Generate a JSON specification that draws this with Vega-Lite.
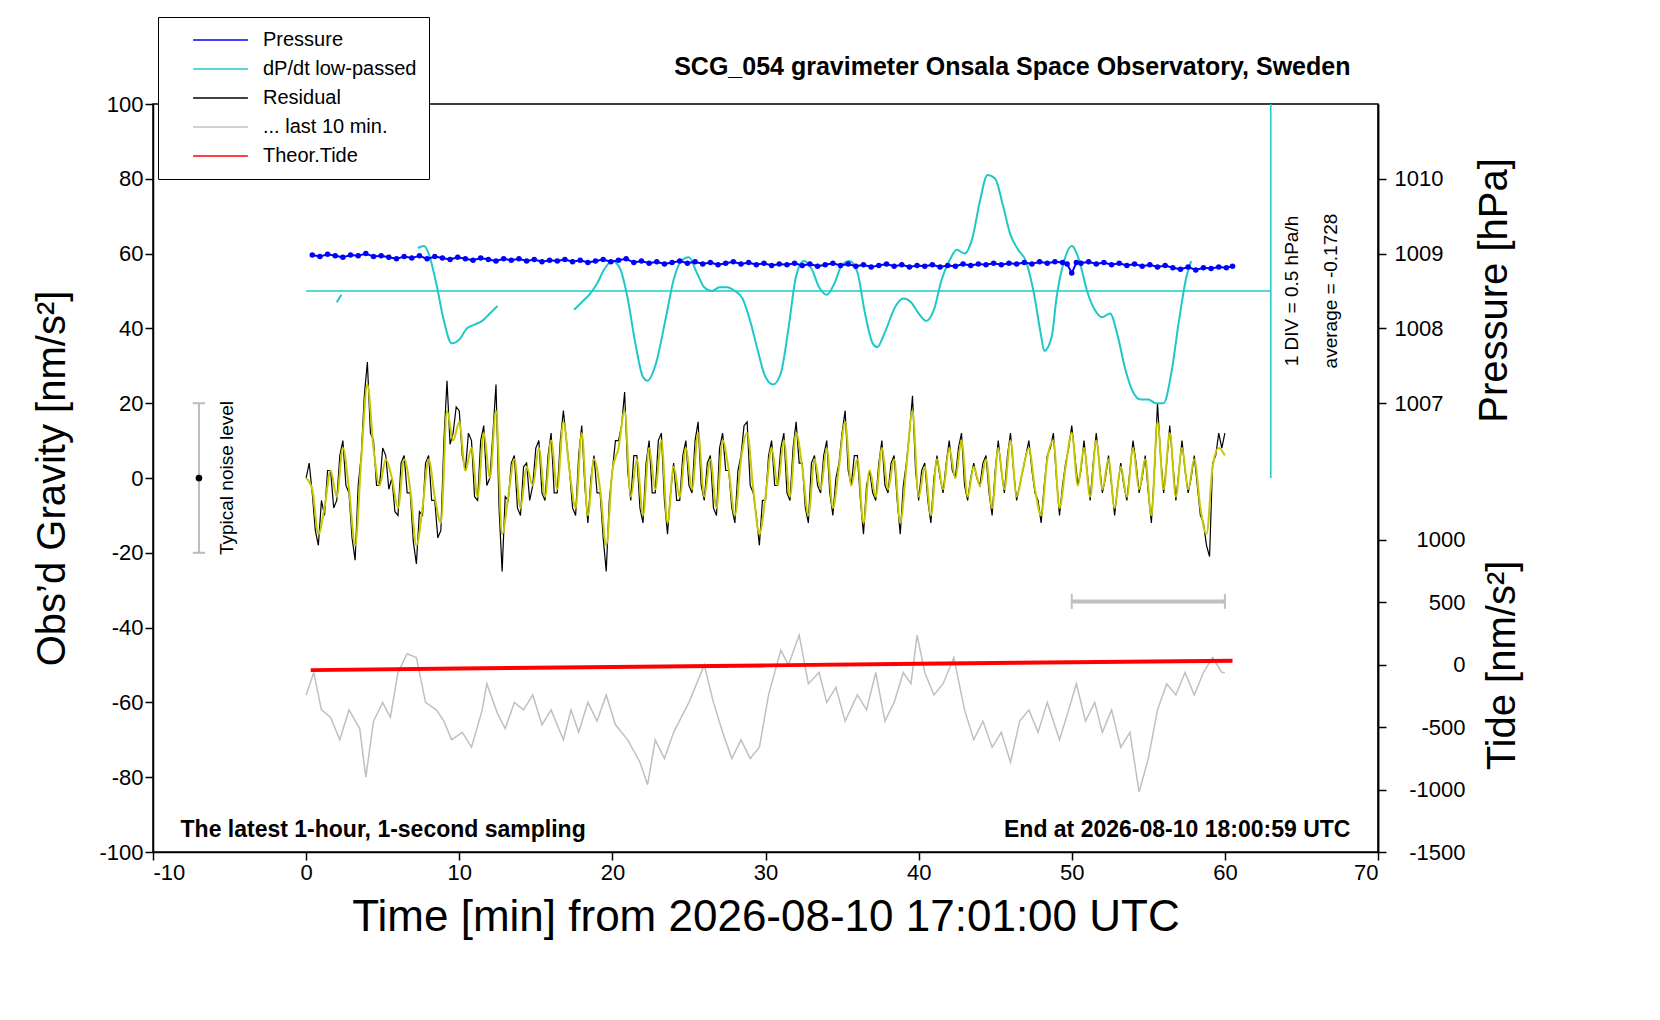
{
  "$schema": "https://vega.github.io/schema/vega-lite/v6.json",
  "width": 1225,
  "height": 748,
  "autosize": "none",
  "padding": {"left": 153, "top": 104, "right": 282, "bottom": 168},
  "background": "white",
  "config": {
    "font": "Liberation Sans",
    "view": {"stroke": "black", "strokeWidth": 1.5},
    "axis": {"grid": false, "domainColor": "black", "tickColor": "black", "labelColor": "black", "titleColor": "black", "titleFontWeight": "normal", "labelFontSize": 22, "titleFontSize": 40, "tickSize": 8, "domainWidth": 1.5, "tickWidth": 1.5, "labelExpr": "'' + datum.value"}
  },
  "datasets": {
    "pressure": [
      {"t":0.4,"p":1008.98},{"t":0.9,"p":1008.96},{"t":1.4,"p":1008.99},{"t":1.9,"p":1008.97},{"t":2.4,"p":1008.95},{"t":2.9,"p":1008.98},{"t":3.4,"p":1008.97},{"t":3.9,"p":1009.0},{"t":4.4,"p":1008.96},{"t":4.9,"p":1008.97},{"t":5.4,"p":1008.95},{"t":5.9,"p":1008.93},{"t":6.4,"p":1008.96},{"t":6.9,"p":1008.94},{"t":7.4,"p":1008.97},{"t":7.9,"p":1008.93},{"t":8.4,"p":1008.96},{"t":8.9,"p":1008.94},{"t":9.4,"p":1008.92},{"t":9.9,"p":1008.95},{"t":10.4,"p":1008.93},{"t":10.9,"p":1008.91},{"t":11.4,"p":1008.94},{"t":11.9,"p":1008.92},{"t":12.4,"p":1008.9},{"t":12.9,"p":1008.93},{"t":13.4,"p":1008.91},{"t":13.9,"p":1008.93},{"t":14.4,"p":1008.9},{"t":14.9,"p":1008.92},{"t":15.4,"p":1008.89},{"t":15.9,"p":1008.91},{"t":16.4,"p":1008.9},{"t":16.9,"p":1008.92},{"t":17.4,"p":1008.89},{"t":17.9,"p":1008.91},{"t":18.4,"p":1008.88},{"t":18.9,"p":1008.9},{"t":19.4,"p":1008.92},{"t":19.9,"p":1008.89},{"t":20.4,"p":1008.91},{"t":20.9,"p":1008.93},{"t":21.4,"p":1008.88},{"t":21.9,"p":1008.9},{"t":22.4,"p":1008.87},{"t":22.9,"p":1008.89},{"t":23.4,"p":1008.86},{"t":23.9,"p":1008.88},{"t":24.4,"p":1008.9},{"t":24.9,"p":1008.87},{"t":25.4,"p":1008.89},{"t":25.9,"p":1008.86},{"t":26.4,"p":1008.88},{"t":26.9,"p":1008.85},{"t":27.4,"p":1008.87},{"t":27.9,"p":1008.89},{"t":28.4,"p":1008.86},{"t":28.9,"p":1008.88},{"t":29.4,"p":1008.85},{"t":29.9,"p":1008.87},{"t":30.4,"p":1008.84},{"t":30.9,"p":1008.86},{"t":31.4,"p":1008.85},{"t":31.9,"p":1008.87},{"t":32.4,"p":1008.84},{"t":32.9,"p":1008.86},{"t":33.4,"p":1008.83},{"t":33.9,"p":1008.85},{"t":34.4,"p":1008.87},{"t":34.9,"p":1008.84},{"t":35.4,"p":1008.86},{"t":35.9,"p":1008.83},{"t":36.4,"p":1008.85},{"t":36.9,"p":1008.82},{"t":37.4,"p":1008.84},{"t":37.9,"p":1008.86},{"t":38.4,"p":1008.83},{"t":38.9,"p":1008.85},{"t":39.4,"p":1008.82},{"t":39.9,"p":1008.84},{"t":40.4,"p":1008.83},{"t":40.9,"p":1008.85},{"t":41.4,"p":1008.82},{"t":41.9,"p":1008.84},{"t":42.4,"p":1008.83},{"t":42.9,"p":1008.86},{"t":43.4,"p":1008.84},{"t":43.9,"p":1008.86},{"t":44.4,"p":1008.85},{"t":44.9,"p":1008.87},{"t":45.4,"p":1008.85},{"t":45.9,"p":1008.87},{"t":46.4,"p":1008.86},{"t":46.9,"p":1008.88},{"t":47.4,"p":1008.86},{"t":47.9,"p":1008.89},{"t":48.4,"p":1008.87},{"t":48.9,"p":1008.89},{"t":49.4,"p":1008.88},{"t":49.7,"p":1008.86},{"t":50.0,"p":1008.74},{"t":50.3,"p":1008.88},{"t":50.6,"p":1008.87},{"t":51.1,"p":1008.89},{"t":51.6,"p":1008.86},{"t":52.1,"p":1008.88},{"t":52.6,"p":1008.85},{"t":53.1,"p":1008.87},{"t":53.6,"p":1008.84},{"t":54.1,"p":1008.86},{"t":54.6,"p":1008.83},{"t":55.1,"p":1008.85},{"t":55.6,"p":1008.82},{"t":56.1,"p":1008.84},{"t":56.6,"p":1008.81},{"t":57.1,"p":1008.79},{"t":57.6,"p":1008.82},{"t":58.1,"p":1008.78},{"t":58.6,"p":1008.81},{"t":59.1,"p":1008.8},{"t":59.6,"p":1008.82},{"t":60.1,"p":1008.81},{"t":60.5,"p":1008.83}
    ],
    "dpdt": [
      {"t":2.0,"g":47,"s":"a"},{"t":2.3,"g":49,"s":"a"},
      {"t":7.3,"g":61.5,"s":"b"},{"t":7.7,"g":62,"s":"b"},{"t":8.0,"g":60,"s":"b"},{"t":8.5,"g":52,"s":"b"},{"t":9.0,"g":42,"s":"b"},{"t":9.5,"g":36,"s":"b"},{"t":10.0,"g":37,"s":"b"},{"t":10.5,"g":40,"s":"b"},{"t":11.0,"g":41,"s":"b"},{"t":11.5,"g":42,"s":"b"},{"t":12.0,"g":44,"s":"b"},{"t":12.5,"g":46,"s":"b"},
      {"t":17.5,"g":45,"s":"c"},{"t":18,"g":47,"s":"c"},{"t":18.5,"g":49,"s":"c"},{"t":19,"g":52,"s":"c"},{"t":19.5,"g":56,"s":"c"},{"t":20,"g":58,"s":"c"},{"t":20.5,"g":56,"s":"c"},{"t":21,"g":48,"s":"c"},{"t":21.5,"g":36,"s":"c"},{"t":22,"g":27,"s":"c"},{"t":22.3,"g":26,"s":"c"},{"t":22.8,"g":30,"s":"c"},{"t":23.5,"g":43,"s":"c"},{"t":24,"g":53,"s":"c"},{"t":24.5,"g":58,"s":"c"},{"t":25,"g":59,"s":"c"},{"t":25.5,"g":55,"s":"c"},{"t":26,"g":51,"s":"c"},{"t":26.5,"g":50,"s":"c"},{"t":27,"g":51,"s":"c"},{"t":27.5,"g":51,"s":"c"},{"t":28,"g":50,"s":"c"},{"t":28.5,"g":48,"s":"c"},{"t":29,"g":42,"s":"c"},{"t":29.5,"g":34,"s":"c"},{"t":30,"g":27,"s":"c"},{"t":30.5,"g":25,"s":"c"},{"t":31,"g":28,"s":"c"},{"t":31.5,"g":40,"s":"c"},{"t":32,"g":54,"s":"c"},{"t":32.5,"g":58,"s":"c"},{"t":33,"g":56,"s":"c"},{"t":33.5,"g":51,"s":"c"},{"t":34,"g":49,"s":"c"},{"t":34.5,"g":52,"s":"c"},{"t":35,"g":57,"s":"c"},{"t":35.5,"g":58,"s":"c"},{"t":36,"g":55,"s":"c"},{"t":36.5,"g":44,"s":"c"},{"t":37,"g":36,"s":"c"},{"t":37.3,"g":35,"s":"c"},{"t":37.8,"g":39,"s":"c"},{"t":38.5,"g":46,"s":"c"},{"t":39,"g":48,"s":"c"},{"t":39.5,"g":47,"s":"c"},{"t":40,"g":44,"s":"c"},{"t":40.5,"g":42,"s":"c"},{"t":41,"g":45,"s":"c"},{"t":41.5,"g":53,"s":"c"},{"t":42,"g":58,"s":"c"},{"t":42.5,"g":61,"s":"c"},{"t":43,"g":60,"s":"c"},{"t":43.5,"g":64,"s":"c"},{"t":44,"g":74,"s":"c"},{"t":44.5,"g":81,"s":"c"},{"t":45,"g":80,"s":"c"},{"t":45.5,"g":73,"s":"c"},{"t":46,"g":65,"s":"c"},{"t":46.5,"g":61,"s":"c"},{"t":47,"g":58,"s":"c"},{"t":47.5,"g":50,"s":"c"},{"t":48,"g":38,"s":"c"},{"t":48.2,"g":34,"s":"c"},{"t":48.7,"g":38,"s":"c"},{"t":49,"g":48,"s":"c"},{"t":49.5,"g":58,"s":"c"},{"t":50,"g":62,"s":"c"},{"t":50.5,"g":58,"s":"c"},{"t":51,"g":50,"s":"c"},{"t":51.5,"g":45,"s":"c"},{"t":52,"g":43,"s":"c"},{"t":52.5,"g":44,"s":"c"},{"t":53,"g":38,"s":"c"},{"t":53.5,"g":29,"s":"c"},{"t":54,"g":23,"s":"c"},{"t":54.5,"g":21,"s":"c"},{"t":55,"g":21,"s":"c"},{"t":55.5,"g":20,"s":"c"},{"t":56,"g":20,"s":"c"},{"t":56.5,"g":28,"s":"c"},{"t":57,"g":42,"s":"c"},{"t":57.5,"g":54,"s":"c"},{"t":57.8,"g":58,"s":"c"}
    ],
    "residual": [
      {"t":0,"g":0},{"t":0.2,"g":4},{"t":0.4,"g":-4},{"t":0.6,"g":-14},{"t":0.8,"g":-18},{"t":1.0,"g":-6},{"t":1.2,"g":-10},{"t":1.4,"g":2},{"t":1.6,"g":2},{"t":1.8,"g":-8},{"t":2.0,"g":-6},{"t":2.2,"g":6},{"t":2.4,"g":10},{"t":2.6,"g":-2},{"t":2.8,"g":-4},{"t":3.0,"g":-16},{"t":3.2,"g":-22},{"t":3.4,"g":-2},{"t":3.6,"g":6},{"t":3.8,"g":22},{"t":4.0,"g":31},{"t":4.2,"g":12},{"t":4.4,"g":10},{"t":4.6,"g":-2},{"t":4.8,"g":-2},{"t":5.0,"g":8},{"t":5.2,"g":6},{"t":5.4,"g":-3},{"t":5.6,"g":0},{"t":5.8,"g":-9},{"t":6.0,"g":-10},{"t":6.2,"g":4},{"t":6.4,"g":6},{"t":6.6,"g":-4},{"t":6.8,"g":-4},{"t":7.0,"g":-17},{"t":7.2,"g":-23},{"t":7.4,"g":-9},{"t":7.6,"g":-10},{"t":7.8,"g":4},{"t":8.0,"g":6},{"t":8.2,"g":-6},{"t":8.4,"g":-6},{"t":8.6,"g":-16},{"t":8.8,"g":-14},{"t":9.0,"g":10},{"t":9.2,"g":26},{"t":9.4,"g":9},{"t":9.6,"g":12},{"t":9.8,"g":19},{"t":10.0,"g":18},{"t":10.2,"g":6},{"t":10.4,"g":2},{"t":10.6,"g":12},{"t":10.8,"g":10},{"t":11.0,"g":-5},{"t":11.2,"g":-6},{"t":11.4,"g":10},{"t":11.6,"g":14},{"t":11.8,"g":-2},{"t":12.0,"g":0},{"t":12.2,"g":12},{"t":12.4,"g":25},{"t":12.6,"g":-8},{"t":12.8,"g":-25},{"t":13.0,"g":-5},{"t":13.2,"g":-6},{"t":13.4,"g":4},{"t":13.6,"g":6},{"t":13.8,"g":-8},{"t":14.0,"g":-10},{"t":14.2,"g":3},{"t":14.4,"g":4},{"t":14.6,"g":-6},{"t":14.8,"g":-2},{"t":15.0,"g":8},{"t":15.2,"g":10},{"t":15.4,"g":-4},{"t":15.6,"g":-6},{"t":15.8,"g":6},{"t":16.0,"g":12},{"t":16.2,"g":-4},{"t":16.4,"g":-4},{"t":16.6,"g":10},{"t":16.8,"g":18},{"t":17.0,"g":10},{"t":17.2,"g":2},{"t":17.4,"g":-8},{"t":17.6,"g":-10},{"t":17.8,"g":6},{"t":18.0,"g":14},{"t":18.2,"g":-2},{"t":18.4,"g":-12},{"t":18.6,"g":0},{"t":18.8,"g":6},{"t":19.0,"g":-4},{"t":19.2,"g":-4},{"t":19.4,"g":-16},{"t":19.6,"g":-25},{"t":19.8,"g":-6},{"t":20.0,"g":2},{"t":20.2,"g":10},{"t":20.4,"g":10},{"t":20.6,"g":14},{"t":20.8,"g":23},{"t":21.0,"g":2},{"t":21.2,"g":-6},{"t":21.4,"g":6},{"t":21.6,"g":6},{"t":21.8,"g":-8},{"t":22.0,"g":-12},{"t":22.2,"g":4},{"t":22.4,"g":10},{"t":22.6,"g":-4},{"t":22.8,"g":-4},{"t":23.0,"g":10},{"t":23.2,"g":12},{"t":23.4,"g":-6},{"t":23.6,"g":-15},{"t":23.8,"g":-4},{"t":24.0,"g":4},{"t":24.2,"g":-6},{"t":24.4,"g":-6},{"t":24.6,"g":6},{"t":24.8,"g":10},{"t":25.0,"g":-2},{"t":25.2,"g":-4},{"t":25.4,"g":10},{"t":25.6,"g":15},{"t":25.8,"g":-2},{"t":26.0,"g":-6},{"t":26.2,"g":4},{"t":26.4,"g":6},{"t":26.6,"g":-8},{"t":26.8,"g":-10},{"t":27.0,"g":8},{"t":27.2,"g":12},{"t":27.4,"g":2},{"t":27.6,"g":2},{"t":27.8,"g":-8},{"t":28.0,"g":-12},{"t":28.2,"g":2},{"t":28.4,"g":6},{"t":28.6,"g":14},{"t":28.8,"g":15},{"t":29.0,"g":-2},{"t":29.2,"g":-4},{"t":29.4,"g":-10},{"t":29.6,"g":-18},{"t":29.8,"g":-6},{"t":30.0,"g":-6},{"t":30.2,"g":6},{"t":30.4,"g":10},{"t":30.6,"g":-2},{"t":30.8,"g":-2},{"t":31.0,"g":8},{"t":31.2,"g":12},{"t":31.4,"g":-4},{"t":31.6,"g":-6},{"t":31.8,"g":8},{"t":32.0,"g":15},{"t":32.2,"g":4},{"t":32.4,"g":4},{"t":32.6,"g":-8},{"t":32.8,"g":-12},{"t":33.0,"g":4},{"t":33.2,"g":6},{"t":33.4,"g":-2},{"t":33.6,"g":-4},{"t":33.8,"g":6},{"t":34.0,"g":10},{"t":34.2,"g":-4},{"t":34.4,"g":-10},{"t":34.6,"g":0},{"t":34.8,"g":4},{"t":35.0,"g":12},{"t":35.2,"g":18},{"t":35.4,"g":2},{"t":35.6,"g":-2},{"t":35.8,"g":6},{"t":36.0,"g":6},{"t":36.2,"g":-6},{"t":36.4,"g":-15},{"t":36.6,"g":-2},{"t":36.8,"g":2},{"t":37.0,"g":-4},{"t":37.2,"g":-6},{"t":37.4,"g":4},{"t":37.6,"g":10},{"t":37.8,"g":-2},{"t":38.0,"g":-4},{"t":38.2,"g":4},{"t":38.4,"g":6},{"t":38.6,"g":-6},{"t":38.8,"g":-15},{"t":39.0,"g":-2},{"t":39.2,"g":4},{"t":39.4,"g":12},{"t":39.6,"g":22},{"t":39.8,"g":2},{"t":40.0,"g":-6},{"t":40.2,"g":2},{"t":40.4,"g":4},{"t":40.6,"g":-6},{"t":40.8,"g":-12},{"t":41.0,"g":0},{"t":41.2,"g":6},{"t":41.4,"g":0},{"t":41.6,"g":-4},{"t":41.8,"g":4},{"t":42.0,"g":10},{"t":42.2,"g":2},{"t":42.4,"g":0},{"t":42.6,"g":8},{"t":42.8,"g":12},{"t":43.0,"g":-2},{"t":43.2,"g":-6},{"t":43.4,"g":0},{"t":43.6,"g":4},{"t":43.8,"g":0},{"t":44.0,"g":-2},{"t":44.2,"g":4},{"t":44.4,"g":6},{"t":44.6,"g":-4},{"t":44.8,"g":-10},{"t":45.0,"g":2},{"t":45.2,"g":10},{"t":45.4,"g":2},{"t":45.6,"g":-4},{"t":45.8,"g":6},{"t":46.0,"g":12},{"t":46.2,"g":2},{"t":46.4,"g":-6},{"t":46.6,"g":-2},{"t":46.8,"g":2},{"t":47.0,"g":6},{"t":47.2,"g":10},{"t":47.4,"g":2},{"t":47.6,"g":-4},{"t":47.8,"g":-6},{"t":48.0,"g":-12},{"t":48.2,"g":-2},{"t":48.4,"g":6},{"t":48.6,"g":8},{"t":48.8,"g":12},{"t":49.0,"g":0},{"t":49.2,"g":-10},{"t":49.4,"g":-2},{"t":49.6,"g":4},{"t":49.8,"g":8},{"t":50.0,"g":14},{"t":50.2,"g":6},{"t":50.4,"g":-2},{"t":50.6,"g":2},{"t":50.8,"g":10},{"t":51.0,"g":2},{"t":51.2,"g":-6},{"t":51.4,"g":4},{"t":51.6,"g":12},{"t":51.8,"g":4},{"t":52.0,"g":-4},{"t":52.2,"g":0},{"t":52.4,"g":6},{"t":52.6,"g":-2},{"t":52.8,"g":-10},{"t":53.0,"g":-2},{"t":53.2,"g":4},{"t":53.4,"g":-2},{"t":53.6,"g":-6},{"t":53.8,"g":2},{"t":54.0,"g":10},{"t":54.2,"g":4},{"t":54.4,"g":-4},{"t":54.6,"g":0},{"t":54.8,"g":6},{"t":55.0,"g":-4},{"t":55.2,"g":-12},{"t":55.4,"g":2},{"t":55.6,"g":20},{"t":55.8,"g":6},{"t":56.0,"g":-4},{"t":56.2,"g":4},{"t":56.4,"g":14},{"t":56.6,"g":4},{"t":56.8,"g":-6},{"t":57.0,"g":2},{"t":57.2,"g":10},{"t":57.4,"g":2},{"t":57.6,"g":-4},{"t":57.8,"g":0},{"t":58.0,"g":6},{"t":58.2,"g":-2},{"t":58.4,"g":-10},{"t":58.6,"g":-12},{"t":58.8,"g":-18},{"t":59.0,"g":-21},{"t":59.2,"g":4},{"t":59.4,"g":6},{"t":59.6,"g":12},{"t":59.8,"g":8},{"t":60.0,"g":12}
    ],
    "smooth": [
      {"t":0,"g":0},{"t":0.4,"g":-3},{"t":0.8,"g":-15},{"t":1.2,"g":-8},{"t":1.6,"g":2},{"t":2.0,"g":-5},{"t":2.4,"g":8},{"t":2.8,"g":-3},{"t":3.2,"g":-18},{"t":3.6,"g":5},{"t":4.0,"g":25},{"t":4.4,"g":8},{"t":4.8,"g":-2},{"t":5.2,"g":5},{"t":5.6,"g":0},{"t":6.0,"g":-8},{"t":6.4,"g":5},{"t":6.8,"g":-3},{"t":7.2,"g":-18},{"t":7.6,"g":-8},{"t":8.0,"g":5},{"t":8.4,"g":-5},{"t":8.8,"g":-12},{"t":9.2,"g":18},{"t":9.6,"g":10},{"t":10.0,"g":15},{"t":10.4,"g":2},{"t":10.8,"g":8},{"t":11.2,"g":-5},{"t":11.6,"g":12},{"t":12.0,"g":0},{"t":12.4,"g":18},{"t":12.8,"g":-15},{"t":13.2,"g":-5},{"t":13.6,"g":5},{"t":14.0,"g":-8},{"t":14.4,"g":3},{"t":14.8,"g":-2},{"t":15.2,"g":8},{"t":15.6,"g":-5},{"t":16.0,"g":10},{"t":16.4,"g":-3},{"t":16.8,"g":15},{"t":17.2,"g":2},{"t":17.6,"g":-8},{"t":18.0,"g":12},{"t":18.4,"g":-10},{"t":18.8,"g":5},{"t":19.2,"g":-3},{"t":19.6,"g":-18},{"t":20.0,"g":2},{"t":20.4,"g":8},{"t":20.8,"g":18},{"t":21.2,"g":-5},{"t":21.6,"g":5},{"t":22.0,"g":-10},{"t":22.4,"g":8},{"t":22.8,"g":-3},{"t":23.2,"g":10},{"t":23.6,"g":-12},{"t":24.0,"g":3},{"t":24.4,"g":-5},{"t":24.8,"g":8},{"t":25.2,"g":-3},{"t":25.6,"g":12},{"t":26.0,"g":-5},{"t":26.4,"g":5},{"t":26.8,"g":-8},{"t":27.2,"g":10},{"t":27.6,"g":2},{"t":28.0,"g":-10},{"t":28.4,"g":5},{"t":28.8,"g":12},{"t":29.2,"g":-3},{"t":29.6,"g":-15},{"t":30.0,"g":-5},{"t":30.4,"g":8},{"t":30.8,"g":-2},{"t":31.2,"g":10},{"t":31.6,"g":-5},{"t":32.0,"g":12},{"t":32.4,"g":3},{"t":32.8,"g":-10},{"t":33.2,"g":5},{"t":33.6,"g":-3},{"t":34.0,"g":8},{"t":34.4,"g":-8},{"t":34.8,"g":3},{"t":35.2,"g":15},{"t":35.6,"g":-2},{"t":36.0,"g":5},{"t":36.4,"g":-12},{"t":36.8,"g":2},{"t":37.2,"g":-5},{"t":37.6,"g":8},{"t":38.0,"g":-3},{"t":38.4,"g":5},{"t":38.8,"g":-12},{"t":39.2,"g":3},{"t":39.6,"g":18},{"t":40.0,"g":-5},{"t":40.4,"g":3},{"t":40.8,"g":-10},{"t":41.2,"g":5},{"t":41.6,"g":-3},{"t":42.0,"g":8},{"t":42.4,"g":0},{"t":42.8,"g":10},{"t":43.2,"g":-5},{"t":43.6,"g":3},{"t":44.0,"g":-2},{"t":44.4,"g":5},{"t":44.8,"g":-8},{"t":45.2,"g":8},{"t":45.6,"g":-3},{"t":46.0,"g":10},{"t":46.4,"g":-5},{"t":46.8,"g":2},{"t":47.2,"g":8},{"t":47.6,"g":-3},{"t":48.0,"g":-10},{"t":48.4,"g":5},{"t":48.8,"g":10},{"t":49.2,"g":-8},{"t":49.6,"g":3},{"t":50.0,"g":12},{"t":50.4,"g":-2},{"t":50.8,"g":8},{"t":51.2,"g":-5},{"t":51.6,"g":10},{"t":52.0,"g":-3},{"t":52.4,"g":5},{"t":52.8,"g":-8},{"t":53.2,"g":3},{"t":53.6,"g":-5},{"t":54.0,"g":8},{"t":54.4,"g":-3},{"t":54.8,"g":5},{"t":55.2,"g":-10},{"t":55.6,"g":15},{"t":56.0,"g":-3},{"t":56.4,"g":12},{"t":56.8,"g":-5},{"t":57.2,"g":8},{"t":57.6,"g":-3},{"t":58.0,"g":5},{"t":58.4,"g":-8},{"t":58.8,"g":-15},{"t":59.2,"g":3},{"t":59.6,"g":8},{"t":60.0,"g":6}
    ],
    "last10": [
      {"t":0,"g":-58},{"t":0.5,"g":-52},{"t":1,"g":-62},{"t":1.6,"g":-64},{"t":2.2,"g":-70},{"t":2.8,"g":-62},{"t":3.5,"g":-67},{"t":3.9,"g":-80},{"t":4.4,"g":-65},{"t":5,"g":-60},{"t":5.5,"g":-64},{"t":6,"g":-52},{"t":6.6,"g":-47},{"t":7.2,"g":-48},{"t":7.8,"g":-60},{"t":8.5,"g":-62},{"t":9,"g":-65},{"t":9.5,"g":-70},{"t":10.2,"g":-68},{"t":10.8,"g":-72},{"t":11.5,"g":-62},{"t":11.8,"g":-55},{"t":12.5,"g":-63},{"t":13,"g":-67},{"t":13.6,"g":-60},{"t":14.2,"g":-62},{"t":14.8,"g":-58},{"t":15.4,"g":-66},{"t":16,"g":-62},{"t":16.8,"g":-70},{"t":17.3,"g":-62},{"t":17.8,"g":-68},{"t":18.4,"g":-60},{"t":19,"g":-65},{"t":19.6,"g":-58},{"t":20.2,"g":-66},{"t":21,"g":-70},{"t":21.8,"g":-76},{"t":22.3,"g":-82},{"t":22.8,"g":-70},{"t":23.4,"g":-75},{"t":24,"g":-68},{"t":25,"g":-60},{"t":26,"g":-50},{"t":26.6,"g":-60},{"t":27.2,"g":-68},{"t":27.8,"g":-75},{"t":28.4,"g":-70},{"t":29,"g":-75},{"t":29.6,"g":-72},{"t":30.2,"g":-58},{"t":31,"g":-46},{"t":31.5,"g":-50},{"t":32.2,"g":-42},{"t":32.8,"g":-55},{"t":33.5,"g":-52},{"t":34,"g":-60},{"t":34.6,"g":-56},{"t":35.2,"g":-65},{"t":36,"g":-58},{"t":36.6,"g":-62},{"t":37.2,"g":-52},{"t":37.8,"g":-65},{"t":38.4,"g":-60},{"t":39,"g":-52},{"t":39.5,"g":-55},{"t":39.9,"g":-42},{"t":40.4,"g":-52},{"t":41,"g":-58},{"t":41.6,"g":-55},{"t":42.3,"g":-48},{"t":43,"g":-62},{"t":43.6,"g":-70},{"t":44.2,"g":-65},{"t":44.8,"g":-72},{"t":45.4,"g":-68},{"t":46,"g":-76},{"t":46.6,"g":-65},{"t":47.2,"g":-62},{"t":47.8,"g":-68},{"t":48.4,"g":-60},{"t":49.2,"g":-70},{"t":49.8,"g":-62},{"t":50.3,"g":-55},{"t":50.9,"g":-65},{"t":51.5,"g":-60},{"t":52,"g":-68},{"t":52.6,"g":-62},{"t":53.2,"g":-72},{"t":53.8,"g":-68},{"t":54.4,"g":-84},{"t":55,"g":-75},{"t":55.6,"g":-62},{"t":56.2,"g":-55},{"t":56.8,"g":-58},{"t":57.4,"g":-52},{"t":58,"g":-58},{"t":58.6,"g":-52},{"t":59.2,"g":-48},{"t":59.8,"g":-52},{"t":60,"g":-52}
    ],
    "tide": [
      {"t":0.3,"n":-45},{"t":10,"n":-32},{"t":20,"n":-20},{"t":30,"n":-7},{"t":40,"n":6},{"t":50,"n":18},{"t":60.5,"n":30}
    ],
    "divticks": [
      {"g":10},{"g":20},{"g":30},{"g":40},{"g":50},{"g":60},{"g":70},{"g":80},{"g":90}
    ]
  },
  "encoding": {
    "x": {"field": "t", "type": "quantitative", "scale": {"domain": [-10, 70], "nice": false},
      "axis": {"values": [-10, 0, 10, 20, 30, 40, 50, 60, 70], "title": "Time [min] from 2026-08-10 17:01:00 UTC", "titleFontSize": 44, "titlePadding": 12}}
  },
  "layer": [
    {
      "encoding": {
        "y": {"field": "g", "type": "quantitative", "scale": {"domain": [-100, 100], "nice": false},
          "axis": {"orient": "left", "values": [-100, -80, -60, -40, -20, 0, 20, 40, 60, 80, 100], "title": "Obs’d Gravity [nm/s²]", "titlePadding": 26}}
      },
      "layer": [
        {"data": {"name": "last10"}, "mark": {"type": "line", "strokeWidth": 1.5},
          "encoding": {"color": {"datum": "... last 10 min."}}},
        {"data": {"name": "residual"}, "mark": {"type": "line", "strokeWidth": 1.2},
          "encoding": {"color": {"datum": "Residual"}}},
        {"data": {"name": "smooth"}, "mark": {"type": "line", "strokeWidth": 2, "color": "#c8c800", "interpolate": "monotone"}, "encoding": {}},
        {"data": {"name": "dpdt"}, "mark": {"type": "line", "strokeWidth": 2, "interpolate": "monotone"},
          "encoding": {"detail": {"field": "s"}, "color": {"datum": "dP/dt low-passed",
            "scale": {"domain": ["Pressure", "dP/dt low-passed", "Residual", "... last 10 min.", "Theor.Tide"], "range": ["#0000ff", "#1ec8c8", "#000000", "#c0c0c0", "#ff0000"]},
            "legend": {"title": null, "orient": "none", "legendX": 5, "legendY": -87, "labelFontSize": 20, "labelColor": "black", "symbolType": "stroke", "symbolSize": 3000, "symbolStrokeWidth": 1.5, "clipHeight": 22, "strokeColor": "black", "fillColor": "white", "padding": 12, "rowPadding": 7, "symbolOffset": 22, "labelOffset": 14, "labelLimit": 400}}}},
        {"data": {"values": [{"t": 0, "t2": 63, "g": 50}]}, "mark": {"type": "rule", "color": "#1ec8c8", "strokeWidth": 1.5},
          "encoding": {"x2": {"field": "t2"}}},
        {"data": {"values": [{"t": 63, "g": 0, "g2": 100}]}, "mark": {"type": "rule", "color": "#1ec8c8", "strokeWidth": 1.5},
          "encoding": {"y2": {"field": "g2"}}},
        {"data": {"name": "divticks"}, "mark": {"type": "rule", "color": "#1ec8c8", "strokeWidth": 1.5},
          "encoding": {"x": {"datum": 63}, "x2": {"datum": 63.85}}},
        {"data": {"values": [{"g": 0}, {"g": 100}]}, "mark": {"type": "rule", "color": "#1ec8c8", "strokeWidth": 1.5},
          "encoding": {"x": {"datum": 62.1}, "x2": {"datum": 63.9}}},
        {"data": {"values": [{"t": 64.4, "g": 50, "txt": "1 DIV = 0.5 hPa/h"}, {"t": 66.9, "g": 50, "txt": "average = -0.1728"}]},
          "mark": {"type": "text", "angle": 270, "fontSize": 19, "color": "black", "align": "center", "baseline": "middle"},
          "encoding": {"text": {"field": "txt"}}},
        {"data": {"values": [{"t": 50, "t2": 60, "g": -33}]}, "mark": {"type": "rule", "color": "#c0c0c0", "strokeWidth": 4},
          "encoding": {"x2": {"field": "t2"}}},
        {"data": {"values": [{"t": 50, "g": -31, "g2": -35}, {"t": 60, "g": -31, "g2": -35}]}, "mark": {"type": "rule", "color": "#c0c0c0", "strokeWidth": 2},
          "encoding": {"y2": {"field": "g2"}}},
        {"data": {"values": [{"t": -7, "g": -20, "g2": 20}]}, "mark": {"type": "rule", "color": "#bbbbbb", "strokeWidth": 2},
          "encoding": {"y2": {"field": "g2"}}},
        {"data": {"values": [{"t": -7.4, "t2": -6.6, "g": -20}, {"t": -7.4, "t2": -6.6, "g": 20}]}, "mark": {"type": "rule", "color": "#bbbbbb", "strokeWidth": 2},
          "encoding": {"x2": {"field": "t2"}}},
        {"data": {"values": [{"t": -7, "g": 0}]}, "mark": {"type": "point", "filled": true, "color": "black", "size": 45, "opacity": 1}, "encoding": {}},
        {"data": {"values": [{"t": -5.2, "g": 0, "txt": "Typical noise level"}]}, "mark": {"type": "text", "angle": 270, "fontSize": 19, "color": "black"},
          "encoding": {"text": {"field": "txt"}}},
        {"data": {"values": [{"t": -8.2, "g": -94, "txt": "The latest 1-hour, 1-second sampling"}]}, "mark": {"type": "text", "fontSize": 23, "fontWeight": "bold", "color": "black", "baseline": "middle", "align": "left"},
          "encoding": {"text": {"field": "txt"}}},
        {"data": {"values": [{"t": 68.2, "g": -94, "txt": "End at 2026-08-10 18:00:59 UTC"}]}, "mark": {"type": "text", "fontSize": 23, "fontWeight": "bold", "color": "black", "baseline": "middle", "align": "right"},
          "encoding": {"text": {"field": "txt"}}},
        {"data": {"values": [{"t": 68.2, "g": 110, "txt": "SCG_054 gravimeter Onsala Space Observatory, Sweden"}]}, "mark": {"type": "text", "fontSize": 25, "fontWeight": "bold", "color": "black", "baseline": "middle", "align": "right"},
          "encoding": {"text": {"field": "txt"}}}
      ]
    },
    {
      "data": {"name": "pressure"},
      "encoding": {
        "y": {"field": "p", "type": "quantitative", "scale": {"domain": [1001, 1011], "nice": false, "zero": false},
          "axis": {"orient": "right", "values": [1007, 1008, 1009, 1010], "title": "Pressure [hPa]", "titleAngle": 270, "titleX": 116, "titleY": 186, "titleBaseline": "middle", "labelPadding": 8}}
      },
      "layer": [
        {"mark": {"type": "line", "strokeWidth": 2}, "encoding": {"color": {"datum": "Pressure"}}},
        {"mark": {"type": "point", "filled": true, "color": "#0000ff", "size": 30, "opacity": 1}, "encoding": {}}
      ]
    },
    {
      "data": {"name": "tide"},
      "encoding": {
        "y": {"field": "n", "type": "quantitative", "scale": {"domain": [-1500, 4484], "nice": false, "zero": false},
          "axis": {"orient": "right", "values": [-1500, -1000, -500, 0, 500, 1000], "title": "Tide [nm/s²]", "titleAngle": 270, "titleX": 124, "titleY": 561, "titleBaseline": "middle", "labelAlign": "right", "labelPadding": 79}}
      },
      "layer": [
        {"mark": {"type": "line", "strokeWidth": 4}, "encoding": {"color": {"datum": "Theor.Tide"}}}
      ]
    }
  ],
  "resolve": {"scale": {"y": "independent"}}
}
